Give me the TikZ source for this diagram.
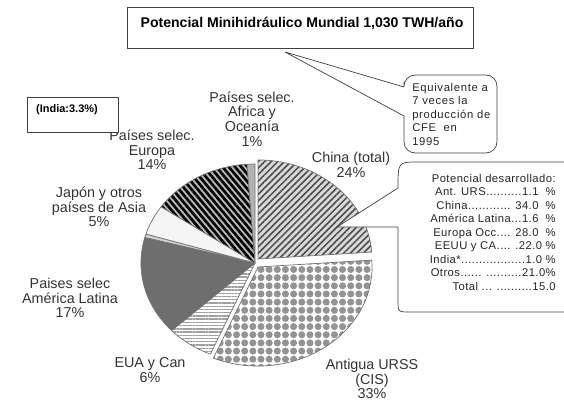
\documentclass[tikz,border=0pt]{standalone}
\usepackage{fontspec}
\setmainfont{Liberation Sans}
\usetikzlibrary{patterns.meta}

\begin{document}
\begin{tikzpicture}[x=0.025cm,y=-0.025cm,line join=round]
\tikzstyle{slice}=[draw=black!55, line width=0.5pt]
\tikzstyle{china slice}=[slice, preaction={fill=gray!30}, pattern={Lines[angle=45,distance=3.3pt,line width=1.1pt]}, pattern color=black!70]
\tikzstyle{urss slice}=[slice, preaction={fill=white}, pattern={Dots[distance=5.8pt,radius=2.5pt]}, pattern color=gray!85]
\tikzstyle{eua slice}=[slice, preaction={fill=white}, pattern={Lines[angle=0,distance=2.3pt,line width=1pt]}, pattern color=gray!75]
\tikzstyle{latam slice}=[slice, fill=black!57]
\tikzstyle{india slice}=[slice, fill=gray!35]
\tikzstyle{asia slice}=[slice, fill=gray!8]
\tikzstyle{europa slice}=[slice, preaction={fill=gray!55}, pattern={Lines[angle=-50,distance=3.4pt,line width=1.9pt]}, pattern color=black]
\tikzstyle{africa slice}=[slice, fill=gray!60]
\tikzstyle{pie label}=[align=center, text=black!80, inner sep=0pt, font=\fontsize{10.2}{10.4}\selectfont]
\tikzstyle{callout}=[draw=black!75, fill=white, line width=0.5pt]
\tikzstyle{callout text}=[align=left, inner sep=0pt, text=black!85, font=\fontsize{8}{9.6}\selectfont]

\useasboundingbox (0,0) rectangle (564,400);

% Centres of the pie and of the two pulled out slices
\coordinate (O) at (255,263);
\coordinate (OC) at (258,259);
\coordinate (OU) at (258,267);

% Draw the slices
\foreach \from/\to/\ctr/\kind in {90/4/OC/china slice, 4/-113/OU/urss slice,
    -113/-137/O/eua slice, -137/-195/O/latam slice, -195/-197/O/india slice,
    -197/-214.6/O/asia slice, -214.6/-266/O/europa slice, -266/-270/O/africa slice}
  \draw[\kind] (\ctr) -- +(\from:2.85cm and 2.475cm)
    arc[start angle=\from, end angle=\to, x radius=2.85cm, y radius=2.475cm] -- cycle;

% Annotate the slices
\node[pie label] (africa) at (252,119) {Países selec.\\Africa y\\Oceanía\\1\%};
\node[pie label] (europa) at (152,150) {Países selec.\\Europa\\14\%};
\node[pie label] (asia) at (99,207) {Japón y otros\\países de Asia\\5\%};
\node[pie label] (latam) at (70,298) {Paises selec\\América Latina\\17\%};
\node[pie label] (eua) at (150,370) {EUA y Can\\6\%};
\node[pie label] (urss) at (372,379) {Antigua URSS\\(CIS)\\33\%};
\node[pie label] (china) at (351,165) {China (total)\\24\%};

% Title box
\node[draw=black!75, fill=white, minimum width=346*0.025cm, minimum height=41*0.025cm] (titlebox) at (300,27.5) {};
\node[inner sep=0pt, font=\fontsize{10}{12}\selectfont\bfseries] (title) at (302,23) {Potencial Minihidráulico Mundial 1,030 TWH/año};

% India box
\node[draw=black!75, fill=white, minimum width=91*0.025cm, minimum height=35*0.025cm] (indiabox) at (72.5,114.5) {};
\node[inner sep=0pt, font=\fontsize{7.8}{9}\selectfont\bfseries] (india) at (67,110) {(India:3.3\%)};

% Callout pointing at the title
\draw[callout] (404,82) [rounded corners=8pt] -- (404,75) -- (497,75) -- (497,153) -- (404,153)
  -- (404,130) [sharp corners] -- (404,116) -- (285,52) -- (404,87) -- cycle;
\node[callout text, anchor=north west, font=\fontsize{8}{9.6}\selectfont\addfontfeature{LetterSpace=6}] (equiv) at (412,83) {Equivalente a\\7 veces la\\producción de\\CFE~~en\\1995};

% Callout pointing at the China slice
\draw[callout] (398,188) -- (337,227) -- (398,227) -- (398,300)
  .. controls (398,312) .. (410,312) -- (600,312) -- (600,162) -- (418,162)
  .. controls (398,162) .. (398,188) -- cycle;
\node[callout text, align=right, anchor=north east, font=\fontsize{8}{9.6}\selectfont\addfontfeature{LetterSpace=4}] (desarr) at (556,174)
  {Potencial desarrollado:\\Ant. URS..........1.1~~\%\\China............ 34.0~~\%\\América Latina...1.6~~\%\\Europa Occ.... 28.0~~\%\\EEUU y CA.... .22.0 \%\\India*..................1.0 \%\\Otros...... ..........21.0\%\\Total ... ..........15.0};
\end{tikzpicture}
\end{document}
